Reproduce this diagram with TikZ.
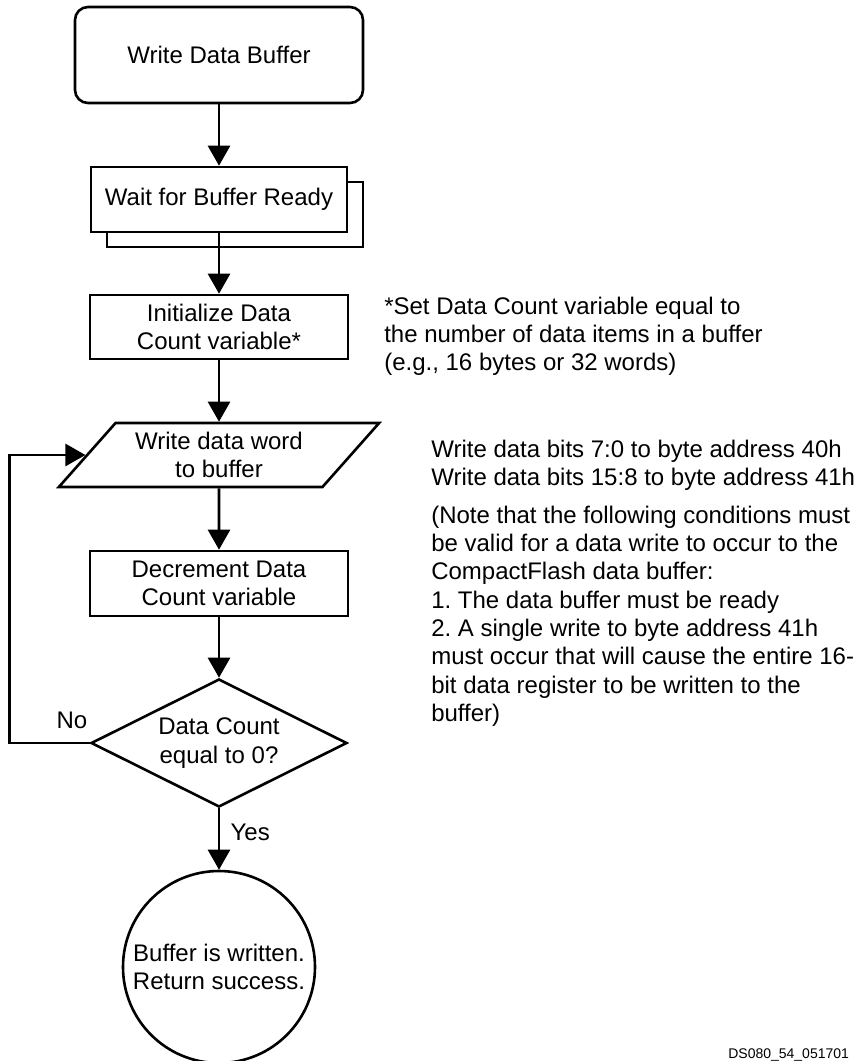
\documentclass[tikz,border=0pt]{standalone}
\usepackage{fontspec}
\setmainfont{Liberation Sans}
\usetikzlibrary{arrows.meta, shapes.geometric, shadows}
\frenchspacing

\tikzset{
    stepbox/.style={draw, fill=white, minimum width=258pt, minimum height=64pt, align=center, inner sep=0pt},
    notetext/.style={anchor=north west, align=left, inner sep=0pt}
}

\begin{document}
\begin{tikzpicture}[x=1pt, y=-1pt, line width=2.6pt, >={Triangle[length=20pt, width=22pt]},
        every node/.style={font=\fontsize{24pt}{28.3pt}\selectfont}]
            \useasboundingbox (0, 0) rectangle (858, 1061);

            \node (start) at (219, 55) [draw, rounded corners=13pt, minimum width=288pt, minimum height=96pt] {Write Data Buffer};
            \node (wait) at (219, 199.5) [stepbox, minimum width=256pt, minimum height=65pt,
                copy shadow={shadow xshift=16pt, shadow yshift=-15pt, fill=white, draw=black}] {Wait for Buffer Ready};
            \node (init) at (219, 327) [stepbox] {Initialize Data\\Count variable*};
            \node (write) at (219, 455) [draw, trapezium, trapezium left angle=45, trapezium right angle=135,
                trapezium stretches=true, minimum width=321pt, minimum height=64pt, align=center, inner sep=0pt] {Write data word\\to buffer};
            \node (dec) at (219, 583.5) [stepbox, minimum height=65pt] {Decrement Data\\Count variable};
            \node (test) at (219, 743) [draw, diamond, aspect=2, minimum width=256pt, minimum height=128pt, align=center, inner sep=0pt] {Data Count\\equal to 0?};
            \node (done) at (219, 967) [draw, circle, minimum size=192pt, align=center, inner sep=0pt] {Buffer is written.\\Return success.};

            \node (no) at (72, 720) {No};
            \node (yes) at (226, 832) [anchor=west] {Yes};

            \draw [->] (start) -- (wait);
            \draw [->] (wait) -- (init);
            \draw [->] (init) -- (write);
            \draw [->] (write) -- (dec);
            \draw [->] (dec) -- (test);
            \draw [->] (test) -- (done);
            \draw [->] (test.west) -- ++(-80, 0) |- (write);

            \node (countnote) at (383, 295.5) [notetext] {*Set Data Count variable equal to\\the number of data items in a buffer\\(e.g., 16 bytes or 32 words)};
            \node (bitsnote) at (430, 438.5) [notetext] {Write data bits 7:0 to byte address 40h\\Write data bits 15:8 to byte address 41h};
            \node (condnote) at (430, 504.5) [notetext] {(Note that the following conditions must\\be valid for a data write to occur to the\\CompactFlash data buffer:\\1. The data buffer must be ready\\2. A single write to byte address 41h\\must occur that will cause the entire 16-\\bit data register to be written to the\\buffer)};

            \node (figid) at (727, 1058) [anchor=base west, inner sep=0pt, font=\fontsize{14pt}{16pt}\selectfont] {DS080\_54\_051701};
\end{tikzpicture}
\end{document}
